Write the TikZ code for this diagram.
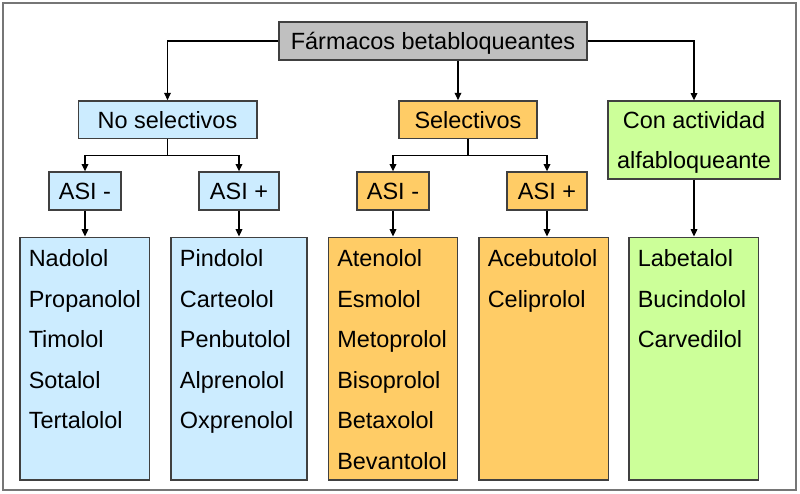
\documentclass[tikz,border=0pt]{standalone}
\usepackage{fontspec}
\setmainfont{Liberation Sans}
\usetikzlibrary{calc,arrows.meta}
\definecolor{c0}{RGB}{192,192,192}
\definecolor{c1}{RGB}{204,236,255}
\definecolor{c2}{RGB}{255,204,102}
\definecolor{c3}{RGB}{204,255,153}
\definecolor{borde}{RGB}{64,64,64}
\definecolor{marco}{RGB}{118,118,118}
\tikzset{%
  caja/.style={draw=borde,line width=1pt,fill=#1,inner sep=0pt,
    font=\fontsize{17.6}{30.6}\selectfont},
  caja/.default=c0,
  etiqueta/.style={caja=#1,text height=13pt,text depth=0pt},
  lista/.style={caja=#1,minimum width=97pt,minimum height=182pt},
  farmaco/.style={anchor=base west,inner sep=0pt,
    font=\fontsize{17.6}{30.6}\selectfont},
  flecha/.style={-{Triangle[length=5.5pt,width=5pt]}}
}
\NewDocumentCommand\farmacos{mm}{%
  \foreach \f [count=\i from 0] in {#2}
    \node[farmaco] (#1-\i) at ($(#1.north west)+(9,30+40.5*\i)$) {\f};
}

\begin{document}
\begin{tikzpicture}[x=0.75pt,y=-0.75pt,line width=0.9pt]
  \useasboundingbox (0,0) rectangle (800,493);
  % Frame
  \draw[marco,line width=1.5pt] (3,3) rectangle (795.5,490);
  % Level 0 and 1
  \node[etiqueta=c0,minimum width=231pt,minimum height=28.5pt] (top) at (433,41) {Fármacos betabloqueantes};
  \node[etiqueta=c1,minimum width=134pt,minimum height=28pt] (nosel) at (167.5,119.5) {No selectivos};
  \node[etiqueta=c2,minimum width=103.5pt,minimum height=28pt] (sel) at (468,119.5) {Selectivos};
  \node[caja=c3,align=center,text depth=0pt,minimum width=129pt,minimum height=58.5pt] (con) at (694,140) {Con actividad\\alfabloqueante};
  % ASI
  \node[etiqueta=c1,minimum width=54pt,minimum height=28.5pt] (a1) at (85,191) {ASI -};
  \node[etiqueta=c1,minimum width=60pt,minimum height=28.5pt] (a2) at (239,191) {ASI +};
  \node[etiqueta=c2,minimum width=54pt,minimum height=28.5pt] (a3) at (393,191) {ASI -};
  \node[etiqueta=c2,minimum width=60pt,minimum height=28.5pt] (a4) at (547,191) {ASI +};
  % Lists
  \node[lista=c1] (l1) at (84.5,358.5) {};
  \node[lista=c1,minimum width=102pt] (l2) at (239,358.5) {};
  \node[lista=c2] (l3) at (393,358.5) {};
  \node[lista=c2] (l4) at (543.5,358.5) {};
  \node[lista=c3] (l5) at (693.5,358.5) {};
  \farmacos{l1}{Nadolol,Propanolol,Timolol,Sotalol,Tertalolol}
  \farmacos{l2}{Pindolol,Carteolol,Penbutolol,Alprenolol,Oxprenolol}
  \farmacos{l3}{Atenolol,Esmolol,Metoprolol,Bisoprolol,Betaxolol,Bevantolol}
  \farmacos{l4}{Acebutolol,Celiprolol}
  \farmacos{l5}{Labetalol,Bucindolol,Carvedilol}
  % Connectors
  \coordinate (m) at (458,80);
  \draw[flecha] (top.west) -| (nosel.north);
  \draw[flecha] (top.south -| m) -- (sel.north -| m);
  \draw[flecha] (top.east) -| (con.north);
  \coordinate (r1) at ($(nosel.south)+(0,17)$);
  \coordinate (r2) at ($(sel.south)+(0,17)$);
  \draw (nosel.south) -- (r1);
  \draw[flecha] (r1) -| (a1.north);
  \draw[flecha] (r1) -| (a2.north);
  \draw (sel.south) -- (r2);
  \draw[flecha] (r2) -| (a3.north);
  \draw[flecha] (r2) -| (a4.north);
  \draw[flecha] (a1.south) -- (a1.south |- l1.north);
  \draw[flecha] (a2.south) -- (a2.south |- l2.north);
  \draw[flecha] (a3.south) -- (a3.south |- l3.north);
  \draw[flecha] (a4.south) -- (a4.south |- l4.north);
  \draw[flecha] (con.south) -- (con.south |- l5.north);
\end{tikzpicture}
\end{document}
